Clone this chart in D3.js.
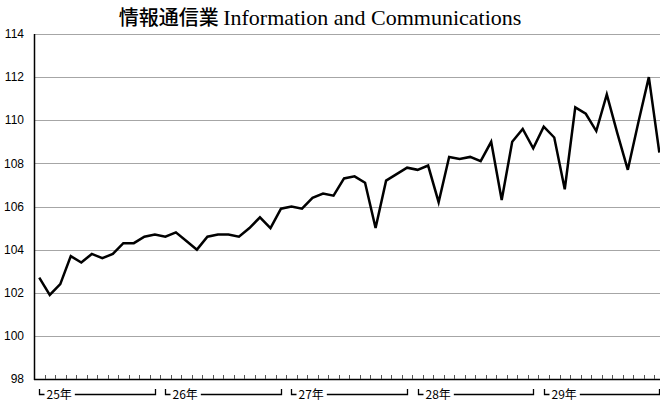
<!DOCTYPE html>
<html>
<head>
<meta charset="utf-8">
<script src="https://cdn.jsdelivr.net/npm/d3@7"></script>
<style>
  body { margin: 0; background: #fff; }
  svg { display: block; }
</style>
</head>
<body>
<div id="container"></div>
<script>
// year labels (Heisei), 12 months each
const years = ["25年", "26年", "27年", "28年", "29年"];
const values = [
  102.7, 101.9, 102.4, 103.7, 103.4, 103.8, 103.6, 103.8, 104.3, 104.3, 104.6, 104.7,
  104.6, 104.8, 104.4, 104.0, 104.6, 104.7, 104.7, 104.6, 105.0, 105.5, 105.0, 105.9,
  106.0, 105.9, 106.4, 106.6, 106.5, 107.3, 107.4, 107.1, 105.0, 107.2, 107.5, 107.8,
  107.7, 107.9, 106.2, 108.3, 108.2, 108.3, 108.1, 109.0, 106.3, 109.0, 109.6, 108.7,
  109.7, 109.2, 106.8, 110.6, 110.3, 109.5, 111.2, 109.4, 107.7, 109.9, 112.0, 108.5
];
const yTicks = [98, 100, 102, 104, 106, 108, 110, 112, 114];

const width = 660, height = 405;
const plotLeft = 34, plotTop = 34, plotBottom = 379;
const step = 10.51;

const svg = d3.select("#container").append("svg")
  .attr("width", width)
  .attr("height", height);

const x = d3.scaleBand()
  .domain(d3.range(values.length))
  .range([plotLeft, plotLeft + step * values.length]);

const y = d3.scaleLinear().domain([98, 114]).range([plotBottom, plotTop]);

const cx = (i) => x(i) + x.bandwidth() / 2;
const edge = (i) => (i < values.length ? x(i) : x.range()[1]);

// title
svg.append("text")
  .attr("x", 320)
  .attr("y", 25)
  .attr("text-anchor", "middle")
  .style("font-size", "22px")
  .call((t) => {
    t.append("tspan")
      .style("font-family", "'Noto Sans CJK JP', sans-serif")
      .style("font-size", "20px")
      .style("font-weight", "500")
      .text("情報通信業 ");
    t.append("tspan")
      .style("font-family", "'Liberation Serif', serif")
      .text("Information and Communications");
  });

// grid lines
svg.append("g")
  .selectAll("line")
  .data(yTicks)
  .join("line")
  .attr("x1", plotLeft)
  .attr("x2", width)
  .attr("y1", (d) => Math.round(y(d)) + 0.5)
  .attr("y2", (d) => Math.round(y(d)) + 0.5)
  .attr("stroke", "#a6a6a6")
  .attr("stroke-width", 1);

// y labels
svg.append("g")
  .selectAll("text")
  .data(yTicks)
  .join("text")
  .attr("x", 24)
  .attr("y", (d) => y(d))
  .attr("dy", "0.35em")
  .attr("text-anchor", "end")
  .style("font-family", "'Liberation Sans Narrow', 'Liberation Sans', sans-serif")
  .style("font-size", "12px")
  .text((d) => d);

// axes lines
svg.append("line")
  .attr("x1", plotLeft + 0.5).attr("x2", plotLeft + 0.5)
  .attr("y1", plotTop).attr("y2", plotBottom + 1)
  .attr("stroke", "#000").attr("stroke-width", 1.5);
svg.append("line")
  .attr("x1", plotLeft).attr("x2", width)
  .attr("y1", plotBottom + 0.5).attr("y2", plotBottom + 0.5)
  .attr("stroke", "#000").attr("stroke-width", 1.5);

// month tick marks (inside, at month boundaries)
svg.append("g")
  .selectAll("line")
  .data(d3.range(1, values.length + 1))
  .join("line")
  .attr("x1", (i) => Math.round(edge(i)) + 0.5)
  .attr("x2", (i) => Math.round(edge(i)) + 0.5)
  .attr("y1", plotBottom - 4)
  .attr("y2", plotBottom)
  .attr("stroke", "#555")
  .attr("stroke-width", 1);

// year brackets
const yearG = svg.append("g");
years.forEach((label, k) => {
  const sx = Math.round(cx(k * 12)) + 0.5;
  const ex = Math.round(cx(k * 12 + 11)) + 0.5;
  const by = 394.5;
  yearG.append("path")
    .attr("d", `M${sx},389 V${by} H${sx + 5}`)
    .attr("fill", "none")
    .attr("stroke", "#000")
    .attr("stroke-width", 1.3);
  const t = yearG.append("text")
    .attr("x", sx + 7)
    .attr("y", 399)
    .style("font-family", "'Noto Sans CJK JP', sans-serif")
    .style("font-size", "12px")
    .text(label);
  const tw = t.node().getComputedTextLength();
  yearG.append("path")
    .attr("d", `M${sx + 7 + tw + 3},${by} H${ex} V389`)
    .attr("fill", "none")
    .attr("stroke", "#000")
    .attr("stroke-width", 1.3);
});

// data line
const line = d3.line()
  .x((d, i) => cx(i))
  .y((d) => y(d));

svg.append("path")
  .datum(values)
  .attr("d", line)
  .attr("fill", "none")
  .attr("stroke", "#000")
  .attr("stroke-width", 2.5)
  .attr("stroke-linejoin", "miter");
</script>
</body>
</html>
